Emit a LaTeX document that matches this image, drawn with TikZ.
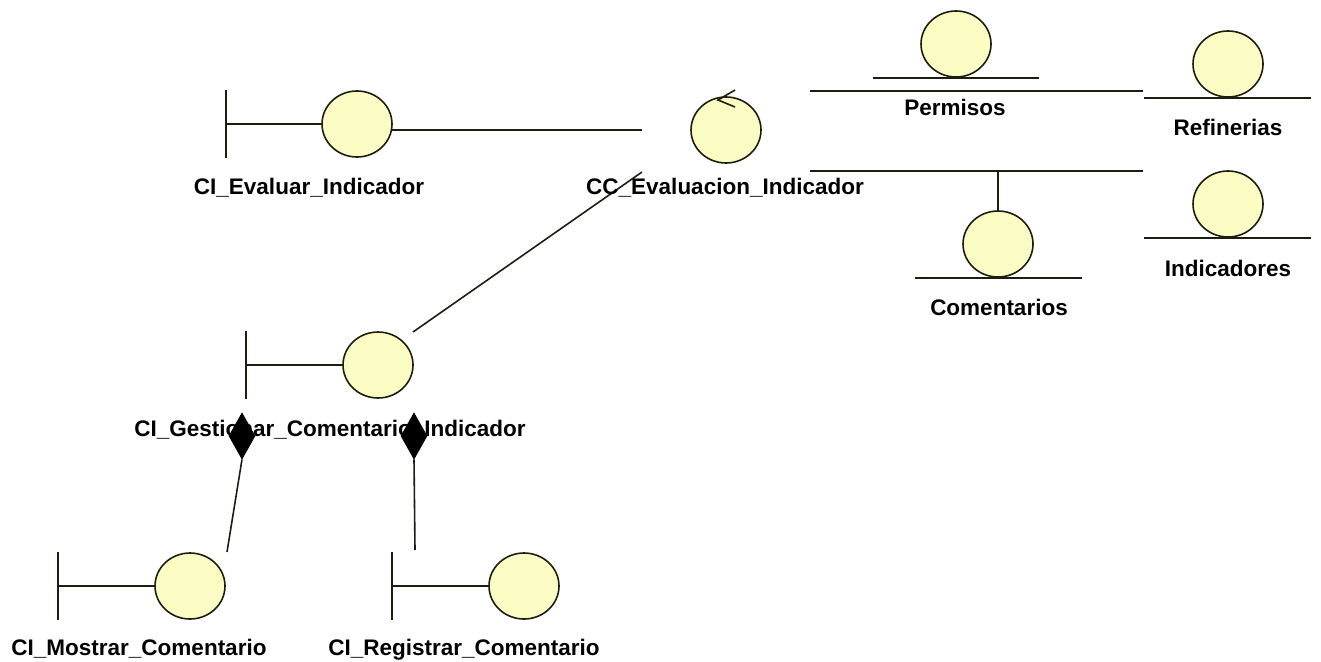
\documentclass[tikz,border=0pt]{standalone}
\usepackage{fontspec}
\setmainfont{Liberation Sans}
\usetikzlibrary{shapes.geometric}
\definecolor{objfill}{RGB}{251,251,196}
\definecolor{objline}{RGB}{30,30,15}
\begin{document}
\begin{tikzpicture}[x=1pt,y=-1pt,
  ln/.style={draw=objline,line width=1.6pt},
  obj/.style={ellipse,draw=objline,line width=1.6pt,fill=objfill,
    minimum width=70pt,minimum height=66pt,inner sep=0pt},
  lbl/.style={anchor=base,inner sep=0pt,font=\fontsize{22.5}{27}\selectfont\bfseries},
  agg/.style={diamond,fill=black,draw=black,line width=0.8pt,inner sep=0pt,
    minimum width=26pt,minimum height=46pt}]
\useasboundingbox (0,0) rectangle (1321,661);

% connector end points
\coordinate (ccW)  at (642,130);
\coordinate (ccSW) at (642,172);
\coordinate (gesNE) at (413,332);
\coordinate (ccE1) at (810,91);
\coordinate (refW) at (1143,91);
\coordinate (ccE2) at (810,171);
\coordinate (indW) at (1143,171);
\coordinate (mosNE) at (227,552);
\coordinate (regN) at (415,550);

% connectors
\draw[ln] (ccW) -- (ccW -| 391,0);
\draw[ln] (ccSW) -- (gesNE);
\draw[ln] (ccE1) -- (refW);
\draw[ln] (ccE2) -- (indW);
\draw[ln] (998,211) -- (998,171);

% boundary objects
\node[obj] (ev) at (357,124) {};
\draw[ln] (ev.west) -- ++(-95,0) coordinate (evB);
\draw[ln] (evB) ++(0,-34) -- ++(0,68);

\node[obj] (ges) at (378,365) {};
\draw[ln] (ges.west) -- ++(-96,0) coordinate (gesB);
\draw[ln] (gesB) ++(0,-34) -- ++(0,68);

\node[obj] (mos) at (190,586) {};
\draw[ln] (mos.west) -- ++(-96,0) coordinate (mosB);
\draw[ln] (mosB) ++(0,-34) -- ++(0,68);

\node[obj] (reg) at (524,586) {};
\draw[ln] (reg.west) -- ++(-96,0) coordinate (regB);
\draw[ln] (regB) ++(0,-34) -- ++(0,68);

% control object with its arrowhead
\node[obj] (cc) at (726,130) {};
\draw[ln] (cc.center) ++(9,-40) -- ++(-17,10) -- ++(17,7);

% entity objects
\node[obj] (perm) at (956,44) {};
\draw[ln] (perm.south) ++(-83,0) -- ++(166,0);
\node[obj] (ref) at (1228,64) {};
\draw[ln] (ref.south) ++(-84,0) -- ++(167,0);
\node[obj] (ind) at (1228,204) {};
\draw[ln] (ind.south) ++(-84,0) -- ++(167,0);
\node[obj] (com) at (998,244) {};
\draw[ln] (com.south) ++(-83,0) -- ++(167,0);

% labels
\node[lbl] (tev)  at (309,194) {CI\_Evaluar\_Indicador};
\node[lbl] (tcc)  at (725,194) {CC\_Evaluacion\_Indicador};
\node[lbl] (tper) at (955,115) {Permisos};
\node[lbl] (tref) at (1228,135) {Refinerias};
\node[lbl] (tind) at (1228,276) {Indicadores};
\node[lbl] (tcom) at (999,315) {Comentarios};
\node[lbl] (tges) at (330,436) {CI\_Gestionar\_Comentario\_Indicador};
\node[lbl] (tmos) at (139,655) {CI\_Mostrar\_Comentario};
\node[lbl] (treg) at (464,655) {CI\_Registrar\_Comentario};

% aggregations
\node[agg] (dl) at (242,436) {};
\node[agg] (dr) at (414,436) {};
\draw[ln] (dl.south) -- (mosNE);
\draw[ln] (dr.south) -- (regN);
\end{tikzpicture}
\end{document}
